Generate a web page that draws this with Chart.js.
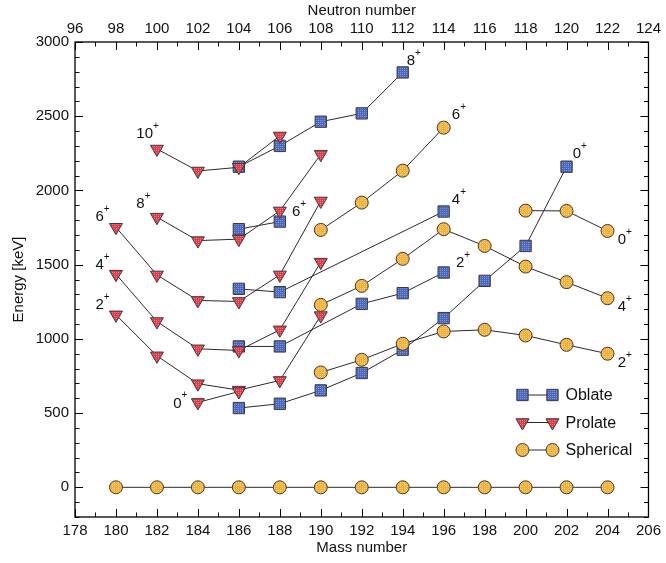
<!DOCTYPE html>
<html>
<head>
<meta charset="utf-8">
<script src="https://cdn.jsdelivr.net/npm/chart.js@4/dist/chart.umd.min.js"></script>
<style>
  body { margin: 0; background: #fff; }
  canvas { display: block; }
</style>
</head>
<body>
<canvas id="levels" width="666" height="563"></canvas>
<script>
// [mass number, energy keV]
const oblate0 = [[186, 534], [188, 563], [190, 653], [192, 770], [194, 927], [196, 1140], [198, 1391], [200, 1626], [202, 2160]];
const oblate2 = [[186, 949], [188, 949], [192, 1236], [194, 1308], [196, 1447]];
const oblate4 = [[186, 1337], [188, 1315], [196, 1858]];
const oblate6 = [[186, 1739], [188, 1790]];
const oblate8 = [[186, 2160], [188, 2300], [190, 2463], [192, 2519], [194, 2795]];

const prolate0 = [[184, 572], [186, 645]];
const prolate2 = [[180, 1162], [182, 886], [184, 698], [186, 655], [188, 720], [190, 1157]];
const prolate4 = [[180, 1436], [182, 1117], [184, 933], [186, 922], [188, 1061], [190, 1517]];
const prolate6 = [[180, 1752], [182, 1431], [184, 1259], [186, 1252], [188, 1431], [190, 1929]];
const prolate8 = [[182, 1820], [184, 1662], [186, 1672], [188, 1862], [190, 2243]];
const prolate10 = [[182, 2279], [184, 2131], [186, 2156], [188, 2367]];

const sphericalGs = [[180, 0], [182, 0], [184, 0], [186, 0], [188, 0], [190, 0], [192, 0], [194, 0], [196, 0], [198, 0], [200, 0], [202, 0], [204, 0]];
const spherical2 = [[190, 774], [192, 859], [194, 967], [196, 1050], [198, 1061], [200, 1023], [202, 960], [204, 900]];
const spherical4 = [[190, 1229], [192, 1357], [194, 1539], [196, 1739], [198, 1626], [200, 1487], [202, 1382], [204, 1274]];
const spherical6 = [[190, 1734], [192, 1918], [194, 2133], [196, 2423]];
const spherical0 = [[200, 1864], [202, 1862], [204, 1727]];

const energyTicks = [0, 500, 1000, 1500, 2000, 2500, 3000];

// spin labels: [mass number, energy, spin]
const spinLabels = [
  [181.4, 2379, '10'], [181.2, 1908, '8'], [179.2, 1820, '6'], [179.2, 1499, '4'],
  [179.2, 1229, '2'], [183.0, 563, '0'], [188.8, 1854, '6'], [194.4, 2871, '8'],
  [196.6, 2508, '6'], [196.6, 1935, '4'], [196.8, 1511, '2'], [202.5, 2244, '0'],
  [204.7, 1667, '0'], [204.7, 1214, '4'], [204.7, 839, '2']
];

const shapeNames = ['Oblate', 'Prolate', 'Spherical'];
const FONT = '"Liberation Sans", Arial, sans-serif';

function dotted(base, dot) {
  const c = document.createElement('canvas');
  c.width = 2; c.height = 2;
  const g = c.getContext('2d');
  g.fillStyle = base; g.fillRect(0, 0, 2, 2);
  g.fillStyle = dot; g.fillRect(0, 0, 1, 1);
  return g.createPattern(c, 'repeat');
}

const styles = {
  Oblate: { pointStyle: 'rect', pointRadius: 8, rotation: 0, fill: dotted('#4867bd', '#7d97dc') },
  Prolate: { pointStyle: 'triangle', pointRadius: 7.5, rotation: 180, fill: dotted('#e63946', '#f07a82') },
  Spherical: { pointStyle: 'circle', pointRadius: 6.5, rotation: 0, fill: dotted('#f5b035', '#fbcf74') }
};

function series(points, shape) {
  const s = styles[shape];
  return {
    label: shape,
    data: points.map(p => ({ x: p[0], y: p[1] })),
    borderColor: '#2b2b2b',
    borderWidth: 1,
    pointStyle: s.pointStyle,
    rotation: s.rotation,
    pointRadius: s.pointRadius,
    pointHoverRadius: s.pointRadius,
    pointBackgroundColor: s.fill,
    pointBorderColor: '#3a3a3a',
    pointBorderWidth: 1,
    tension: 0,
    fill: false
  };
}

// first dataset is drawn on top
const datasets = [
  ...[sphericalGs, spherical2, spherical4, spherical6, spherical0].map(p => series(p, 'Spherical')),
  ...[prolate0, prolate2, prolate4, prolate6, prolate8, prolate10].map(p => series(p, 'Prolate')),
  ...[oblate0, oblate2, oblate4, oblate6, oblate8].map(p => series(p, 'Oblate'))
];

const frameTicks = {
  id: 'frameTicks',
  afterDraw(chart) {
    const { ctx, chartArea: a, scales } = chart;
    ctx.save();
    ctx.strokeStyle = '#000';
    ctx.lineWidth = 1;
    ctx.beginPath();
    for (let v = 178; v <= 206; v += 1) {
      const px = Math.round(scales.x.getPixelForValue(v)) + 0.5;
      const len = v % 2 === 0 ? 8 : 4.5;
      ctx.moveTo(px, a.bottom); ctx.lineTo(px, a.bottom - len);
    }
    for (let v = 96; v <= 124; v += 1) {
      const px = Math.round(scales.x2.getPixelForValue(v)) + 0.5;
      const len = v % 2 === 0 ? 8 : 4.5;
      ctx.moveTo(px, a.top); ctx.lineTo(px, a.top + len);
    }
    for (let v = -200; v <= 3000; v += 100) {
      const py = Math.round(scales.y.getPixelForValue(v)) + 0.5;
      const len = v % 500 === 0 ? 8 : 4.5;
      ctx.moveTo(a.left, py); ctx.lineTo(a.left + len, py);
      ctx.moveTo(a.right, py); ctx.lineTo(a.right - len, py);
    }
    ctx.stroke();
    ctx.lineWidth = 1.3;
    ctx.strokeRect(a.left, a.top, a.right - a.left, a.bottom - a.top);

    // spin labels
    ctx.fillStyle = '#111';
    ctx.textBaseline = 'middle';
    ctx.textAlign = 'left';
    spinLabels.forEach(([m, e, spin]) => {
      const x = scales.x.getPixelForValue(m);
      const y = scales.y.getPixelForValue(e);
      ctx.font = '15px ' + FONT;
      const w = ctx.measureText(spin).width;
      ctx.fillText(spin, x - w / 2, y);
      ctx.font = '10px ' + FONT;
      ctx.fillText('+', x + w / 2, y - 8);
    });

    // legend: marker - line - marker, then name
    shapeNames.forEach((name, i) => {
      const s = styles[name];
      const y = a.bottom - 122 + i * 27.5;
      const x1 = a.right - 126, x2 = a.right - 96;
      ctx.strokeStyle = '#2b2b2b';
      ctx.lineWidth = 1;
      ctx.beginPath(); ctx.moveTo(x1, y); ctx.lineTo(x2, y); ctx.stroke();
      [x1, x2].forEach(x => {
        ctx.fillStyle = s.fill;
        ctx.strokeStyle = '#3a3a3a';
        Chart.helpers.drawPoint(ctx, { pointStyle: s.pointStyle, radius: s.pointRadius, rotation: s.rotation, borderWidth: 1 }, x, y);
      });
      ctx.fillStyle = '#111';
      ctx.font = '16px ' + FONT;
      ctx.textAlign = 'left';
      ctx.fillText(name, a.right - 83, y + 1);
    });
    ctx.restore();
  }
};

new Chart(document.getElementById('levels'), {
  type: 'line',
  data: { datasets },
  options: {
    responsive: false,
    animation: false,
    events: [],
    layout: { padding: { right: 14, left: 0, top: 0, bottom: 0 } },
    plugins: { legend: { display: false }, tooltip: { enabled: false } },
    scales: {
      x: {
        type: 'linear', position: 'bottom', min: 178, max: 206,
        afterFit: s => { s.height = 46; },
        ticks: { stepSize: 2, padding: 5, color: '#111', font: { family: FONT, size: 15 }, maxRotation: 0, callback: v => String(v) },
        grid: { display: false, drawTicks: false },
        border: { display: false },
        title: { display: true, text: 'Mass number', color: '#111', font: { family: FONT, size: 15 }, padding: { top: 0, bottom: 6 } }
      },
      x2: {
        type: 'linear', position: 'top', min: 96, max: 124,
        afterFit: s => { s.height = 42; },
        ticks: { stepSize: 2, padding: 4, color: '#111', font: { family: FONT, size: 15 }, maxRotation: 0, callback: v => String(v) },
        grid: { display: false, drawTicks: false },
        border: { display: false },
        title: { display: true, text: 'Neutron number', color: '#111', font: { family: FONT, size: 15 }, padding: { top: 2, bottom: 0 } }
      },
      y: {
        type: 'linear', position: 'left', min: -200, max: 3000,
        afterFit: s => { s.width = 75; },
        afterBuildTicks: s => { s.ticks = energyTicks.map(v => ({ value: v })); },
        ticks: { padding: 6, color: '#111', font: { family: FONT, size: 15 }, callback: v => String(v) },
        grid: { display: false, drawTicks: false },
        border: { display: false },
        title: { display: true, text: 'Energy [keV]', color: '#111', font: { family: FONT, size: 15 }, padding: { top: 10, bottom: 0 } }
      }
    }
  },
  plugins: [frameTicks]
});
</script>
</body>
</html>
